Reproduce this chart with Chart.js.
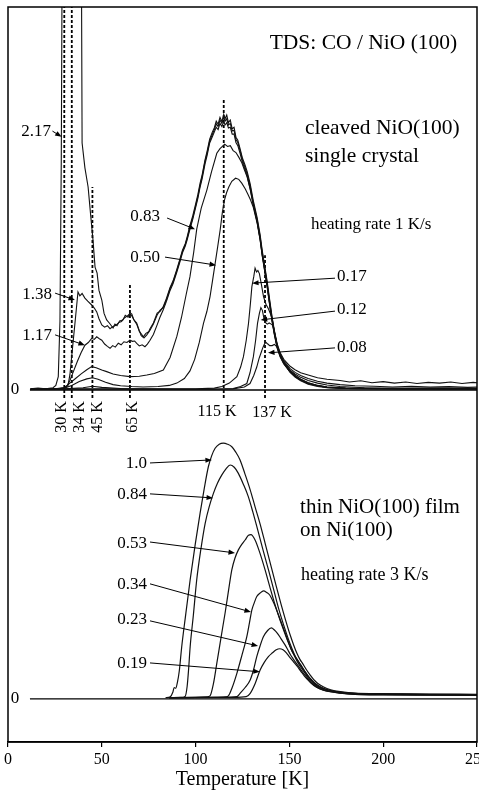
<!DOCTYPE html>
<html><head><meta charset="utf-8">
<script src="https://cdn.jsdelivr.net/npm/chart.js@4.4.1/dist/chart.umd.min.js"></script>
<style>
html,body{margin:0;padding:0;background:#fff;overflow:hidden;width:479px;height:799px;}
#wrap{position:absolute;left:0;top:0;width:520px;height:799px;}
canvas{display:block;}
</style></head><body>
<div id="wrap"><canvas id="c" width="520" height="799"></canvas></div>
<script>
// ---------- data ----------
const tempTicks = [0, 50, 100, 150, 200, 250];
const topCoverage = ['2.17','1.38','1.17','0.83','0.50','0.17','0.12','0.08'];
const botCoverage = ['1.0','0.84','0.53','0.34','0.23','0.19'];
const markerTemps = [30, 34, 45, 65, 115, 137];
const markerTops  = [100, 100, 53, 27.4, 75.7, 35.2];
const markerLabels = ['30 K','34 K','45 K','65 K','115 K','137 K'];

// top panel: cleaved NiO(100), [T (K), intensity (a.u.)]
const c217 = [[12,0.3],[16,0.5],[20,0.3],[24,0.6],[25.5,1.2],[26.8,3.5],[27.7,18],[28.4,60],[29,130],[35,150],[39,130],[39.5,64.5],[41,58],[42.7,53],[44,46],[45.3,39.2],[46.4,32.1],[47.5,30.5],[48.5,26],[50,23.5],[51.2,20],[52.6,18.3],[54,17.5],[56,16.2],[57,17.2],[58.1,16.8],[59.5,18],[61.3,18.3],[62.5,19.5],[64,19],[65,20.2],[66,19.8],[67,18.4],[68.6,17.5],[70,15.5],[71,14.2],[72,13.8],[73.5,14.8],[75,15.2],[75.7,16],[77.5,17.5],[79.5,20.1],[81,20.5],[82.7,21.7],[84.5,24],[86.4,26.8],[88,28.5],[90,31.5],[91.5,34],[93,36.5],[94.5,38.2],[95.5,40],[97,43],[98.5,45.5],[100,48.5],[101.2,51],[102.4,54],[103.5,56.2],[105,60],[106.2,62.5],[107.5,65.5],[108.8,67.2],[110,68.5],[111,70.2],[112,69.4],[113,71.2],[114,70.1],[115,72],[115.7,70.8],[116.6,71.8],[117.5,69.8],[118.5,70.5],[119.5,68.2],[120.5,68.6],[121.5,66],[122.5,65.2],[123.7,63],[125,60.5],[126.3,58.8],[127.5,57],[129.1,53.8],[130.7,49.6],[132.8,45],[134.4,40.5],[135.5,36.5],[136.8,32.5],[138.1,28.5],[139.5,23.5],[140.8,19],[142,15.5],[143.5,12],[145.1,9.7],[147,8],[150.4,6.2],[153,5.3],[156,4.5],[160,3.9],[165,3.2],[170,2.8],[177,2.5],[182,2.1],[188,2.4],[194,1.9],[200,2.2],[206,1.8],[212,2.1],[218,1.7],[224,2],[230,1.8],[236,2.1],[242,1.7],[248,2],[252,1.8]];
const c138 = [[12,0.2],[18,0.4],[24,0.2],[30,0.5],[32,1.2],[33,4],[34,9],[35,14],[36,19],[37.3,25.6],[38.3,24.6],[39.5,25.2],[41,24],[42.5,23.2],[44.6,22.2],[46,21.4],[47.3,20.4],[48.5,18.6],[50,17],[51.5,16.4],[53,16.8],[54.4,16],[56,16.6],[57.5,16.9],[59,17.6],[60.5,17.9],[62,18.8],[63.5,19.3],[65,19.9],[66.2,19.2],[67.4,18.1],[68.6,17.2],[70,15.3],[71.3,14.5],[72.5,13.6],[74,14.4],[75.7,15.6],[77.5,17.2],[79.5,19.6],[81,20.8],[82.7,21.5],[84.5,23.6],[86.4,26.5],[88,28.2],[90,31.2],[91.5,33.6],[93,36.2],[94.5,38],[95.5,39.6],[97,42.5],[98.5,45],[100,48],[101.2,50.5],[102.4,53.4],[103.5,55.8],[105,59.6],[106.2,62],[107.5,65],[108.8,66.6],[110,68],[111,69.5],[112,68.8],[113,70.5],[114,69.6],[115,71.2],[115.7,70.2],[116.6,70.8],[117.5,69.2],[118.5,69.6],[119.5,67.6],[120.5,67.8],[121.5,65.4],[122.5,64.6],[123.7,62.5],[125,60],[126.3,58.2],[127.5,56.4],[129.1,53.2],[130.7,49],[132.8,44.5],[134.4,40],[135.5,36],[136.8,32],[138.1,28],[139.5,23],[140.8,18.6],[142,15.2],[143.5,11.7],[145.1,9.4],[147,7.6],[150.4,5.6],[153,4.6],[156,3.8],[160,3],[165,2.3],[170,1.8],[177,1.4],[185,1.1],[195,1.0],[205,0.8],[215,1.0],[225,0.8],[235,0.9],[245,0.7],[252,0.8]];
const c117 = [[12,0.3],[20,0.2],[26,0.4],[30,0.6],[31.3,0.9],[33,2.5],[35,5],[37,7.5],[39,9.8],[41,11.7],[42.8,12.4],[44.6,13.5],[46,13.2],[47.3,13.9],[48.7,13.4],[50,13],[51.5,12],[53,11.4],[54.4,10.9],[55.8,11.6],[57.2,11.2],[58.8,12.2],[60.3,11.8],[61.8,12.6],[63.4,12.4],[65,13],[66.3,12.7],[67.5,12.8],[68.6,12.2],[70,11.5],[71.5,11.8],[73,11.3],[74.3,12],[75.7,13],[77.5,14.5],[79.5,17],[81,19],[82.7,20.9],[84.5,23.2],[86.4,26],[88,27.8],[90,30.8],[91.5,33.2],[93,35.8],[94.5,37.6],[95.5,39.2],[97,42],[98.5,44.6],[100,47.6],[101.2,50],[102.4,53],[103.5,55.2],[105,59],[106.2,61.4],[107.5,64.5],[108.8,66],[110,67.4],[111,68.6],[112,68],[113,69.6],[114,68.8],[115,70],[115.7,69.2],[116.6,69.8],[117.5,68.4],[118.5,68.6],[119.5,66.8],[120.5,66.8],[121.5,64.6],[122.5,63.8],[123.7,61.8],[125,59.4],[126.3,57.6],[127.5,55.8],[129.1,52.6],[130.7,48.5],[132.8,44],[134.4,39.5],[135.5,35.5],[136.8,31.5],[138.1,27.5],[139.5,22.5],[140.8,18.2],[142,14.8],[143.5,11.3],[145.1,9],[147,7.2],[150.4,5.2],[153,4.2],[156,3.3],[160,2.5],[165,1.8],[170,1.3],[177,0.9],[190,0.6],[210,0.5],[230,0.6],[252,0.5]];
const c083 = [[12,0.2],[22,0.3],[28,0.4],[30,0.6],[33,1.8],[36,3],[39,4.2],[42,5.3],[44.6,6.1],[47,5.8],[50,5.2],[52.6,4.8],[56,4.2],[60,3.8],[65,3.5],[70,3.6],[74,3.9],[78,4.3],[82.8,5.2],[86.4,8.5],[90,14],[92.5,19],[95,25],[97,29.6],[99,36],[100.6,42],[103,47.5],[106,52.2],[108.5,57],[111.3,61.8],[113,63],[114,63.5],[115.5,64.2],[117,63.6],[118.5,63.8],[120,62.5],[121.5,62],[123,60.8],[124.5,59.5],[126,57.5],[127.5,55.6],[129.1,52.4],[130.7,48.4],[132.8,43.8],[134.4,39.3],[135.5,35.3],[136.8,31.3],[138.1,27.3],[139.5,22.3],[140.8,18],[142,14.6],[143.5,11.1],[145.1,8.8],[147,7],[150.4,4.9],[153,3.8],[156,2.8],[160,1.9],[165,1.2],[170,0.8],[180,0.5],[200,0.4],[225,0.4],[252,0.3]];
const c050 = [[12,0.2],[25,0.3],[30,0.5],[34,1.2],[38,2.2],[42,2.9],[45,3.2],[48,2.8],[52,2],[56,1.4],[60,1.1],[66,0.9],[72,0.8],[80,0.9],[86,1.2],[90,1.8],[94,3],[97,5],[99.5,8],[102,12.5],[104.2,17.4],[106,20.5],[107.7,24.4],[109,28.5],[110.4,33],[111.8,37.5],[113.1,41.8],[114.3,46.5],[115.5,49.8],[116.5,51.5],[117.7,53],[119.3,54.5],[121.3,55.3],[123,55],[124.6,54],[126.5,52.5],[128,51],[129.3,49.6],[130.7,47.8],[132.8,43.6],[134.4,39.1],[135.5,35.1],[136.8,31.1],[138.1,27.1],[139.5,22.1],[140.8,17.8],[142,14.4],[143.5,10.9],[145.1,8.6],[147,6.8],[150.4,4.7],[153,3.6],[156,2.6],[160,1.7],[165,1.1],[170,0.7],[180,0.4],[210,0.3],[252,0.3]];
const c017 = [[12,0.2],[30,0.3],[40,0.6],[45,1],[50,0.7],[60,0.4],[80,0.3],[100,0.3],[110,0.5],[114,0.9],[118,1.8],[122,3.5],[124,6],[125.5,8.7],[127,13],[128.2,17.4],[129.2,22.5],[130,27],[131,29.6],[131.7,31.8],[132.5,30.8],[133.2,31.2],[134,30.4],[135,27.8],[136.2,24.4],[137.5,22.4],[138.8,21.2],[140,19.8],[140.8,18.6],[142,15.1],[143.5,11.6],[145.1,9.3],[147,7.3],[150.4,5],[153,3.8],[156,2.8],[160,1.9],[165,1.2],[170,0.8],[180,0.5],[200,0.4],[225,0.3],[252,0.3]];
const c012 = [[12,0.2],[40,0.3],[60,0.3],[90,0.2],[110,0.2],[120,0.4],[124,0.9],[127.3,1.7],[129,4.5],[130.8,8.7],[132,13],[133,17.4],[134,20],[134.8,21.5],[135.6,20.8],[136.4,18.8],[137.3,17.6],[138.2,17.2],[139.2,17.5],[140.3,17.2],[141.3,16.8],[142.3,14.5],[143.5,11.4],[145.1,9.1],[147,7.1],[150.4,4.8],[153,3.6],[156,2.6],[160,1.7],[165,1.1],[170,0.7],[180,0.4],[210,0.3],[252,0.3]];
const c008 = [[12,0.2],[60,0.2],[100,0.2],[120,0.3],[126,0.8],[129,1.7],[131,3.8],[132.6,6],[133.8,8.2],[134.8,9.6],[135.8,11],[136.8,12.1],[137.6,12.4],[138.5,12],[139.5,11.6],[140.8,11.6],[142,11.9],[143.5,11.2],[145.1,9],[147,7],[150.4,4.6],[153,3.4],[156,2.4],[160,1.5],[165,0.9],[170,0.6],[180,0.4],[210,0.3],[252,0.3]];

// bottom panel: thin NiO(100) film on Ni(100)
const b10  = [[84,0.5],[86.5,0.8],[87.8,2.5],[88.6,4.5],[89.4,4.2],[90.3,6.5],[91.3,11],[92.6,20.6],[94.5,32],[97.1,47],[99.8,61],[102.4,73.3],[104.6,83],[106.8,91.6],[108.6,96],[110.4,98.9],[112.6,100.5],[114.8,100.9],[117,100.5],[119.3,99.5],[121.5,97.3],[123.7,94.3],[126.3,88.8],[129.1,82.5],[131.7,75.8],[134.4,69],[137.2,61],[140,53],[142.8,45],[145.5,37.5],[148,31],[150.5,25],[152.3,21.2],[154,18],[155.6,15.6],[157,14],[159,11.6],[161,9.5],[163,7.6],[165,6.2],[168,4.8],[172,3.6],[178,2.8],[185,2.3],[195,2.1],[210,2],[230,1.9],[252,1.8]];
const b084 = [[86,0.4],[92,0.6],[94.4,1],[95.5,5],[96.3,12],[97.1,20.6],[98.8,33],[100.6,47],[102.8,59],[105.1,69.3],[107.3,76],[109.5,81.1],[111.7,85.2],[114,88.4],[116.2,90.8],[118.4,92.3],[120.6,91.4],[122.8,89],[125.4,84.8],[128,80],[130.5,73.8],[133,67],[136,58.6],[139,50.5],[141.8,42.6],[144.5,35],[147,29],[149.5,23.5],[151.3,20],[153,17],[154.6,15],[156,13.5],[158,11.2],[160,9],[162,7.4],[164,6],[167,4.6],[171,3.5],[177,2.7],[185,2.2],[200,2],[225,1.8],[252,1.7]];
const b053 = [[86,0.5],[100,0.6],[106,0.8],[107.7,1.2],[109.5,6],[111.3,14],[113.5,24],[115.7,33.8],[117.5,42.5],[119.3,50.9],[121,55.6],[122.8,58.8],[124.6,61],[126.4,62.7],[128.2,64.6],[129.5,64.8],[131.7,62.7],[134.3,57.5],[137,51],[139.5,44.4],[142,38],[144.5,32.2],[147,27],[149,23],[151,19.5],[153,16.8],[155,14.5],[157,12.1],[159,10],[161,8],[163,6.3],[166,4.7],[170,3.6],[177,2.6],[185,2.1],[200,1.9],[225,1.7],[252,1.6]];
const b034 = [[86,0.5],[110,0.6],[116,0.8],[117.5,1.2],[119.5,4.5],[122,10.1],[124.6,17],[127.3,24.6],[128.7,30],[130,35.1],[131.3,38],[132.6,40.4],[134.4,41.8],[136.2,42.6],[137.9,42],[139.5,41],[141.8,37.6],[144,33.5],[146,29.5],[148,25.5],[149.5,22.4],[151,19.5],[152.5,17.2],[154,15],[156,12.6],[158,10.5],[160,8.4],[162,6.5],[165,4.8],[169,3.5],[176,2.6],[185,2],[200,1.8],[225,1.7],[252,1.6]];
const b023 = [[86,0.5],[115,0.6],[122,0.9],[123.7,2.2],[126.4,4.5],[129.1,7.5],[130.9,11.5],[132.6,16.7],[134.4,21],[136.2,24.6],[138.4,27],[140.4,28],[142,27.2],[143.5,26],[145.5,23.8],[147.5,21.5],[149,19.6],[150.5,17.5],[152,15.8],[153.5,14.2],[155,12.7],[157,10.6],[159,8.7],[161.5,6.4],[164.5,4.7],[168,3.5],[175,2.5],[185,1.9],[200,1.7],[225,1.6],[252,1.5]];
const b019 = [[86,0.5],[120,0.6],[127,0.9],[129.1,2.2],[131.7,6],[134.4,11.4],[136.6,14.4],[138.8,16.7],[141,18.2],[143,19.4],[144.8,19.8],[146.6,19.4],[148.4,18.2],[150,16.6],[152,14.8],[154,13],[156,11],[158,9],[160.5,7],[163,5.3],[166,4],[170,3.1],[176,2.4],[185,1.8],[200,1.6],[225,1.5],[252,1.5]];

const baselineSpan = [11.7, 252];

// ---------- annotations (positions in data units) ----------
const SERIF = "'Liberation Serif','DejaVu Serif',serif";
const texts = [
  {t:'TDS: CO / NiO (100)', T:139.5, v:90.6, ax:'yTop', size:21.5, align:'left'},
  {t:'cleaved NiO(100)', T:158.3, v:68.4, ax:'yTop', size:21.5, align:'left'},
  {t:'single crystal', T:158.3, v:61.1, ax:'yTop', size:21.5, align:'left'},
  {t:'heating rate 1 K/s', T:161.5, v:43.3, ax:'yTop', size:17, align:'left'},
  {t:'thin NiO(100) film', T:155.7, v:75.7, ax:'yBot', size:21, align:'left'},
  {t:'on Ni(100)', T:155.7, v:66.3, ax:'yBot', size:21, align:'left'},
  {t:'heating rate 3 K/s', T:156.2, v:48.9, ax:'yBot', size:18, align:'left'},
  {t:'0', T:3.7, v:0, ax:'yTop', size:17, align:'center'},
  {t:'0', T:3.7, v:0, ax:'yBot', size:17, align:'center'},
  {t:'115 K', T:111.4, v:-5.7, ax:'yTop', size:16, align:'center'},
  {t:'137 K', T:140.8, v:-6.0, ax:'yTop', size:16, align:'center'}
];
const rotLabelT = [28.8, 38.4, 47.7, 66.7];
const rotLabelV = -7.05;
// coverage labels with arrows: label anchor, arrow start, arrow tip
const arrowsTop = [
  {t:'2.17', lT:22.9, lv:67.4, align:'right', s:[23.7,67.6], e:[28.6,66.1]},
  {t:'1.38', lT:23.5, lv:24.8, align:'right', s:[25.1,25.3], e:[35.7,23.5]},
  {t:'1.17', lT:23.5, lv:14.1, align:'right', s:[25.1,14.4], e:[41.0,11.7]},
  {t:'0.83', lT:81.0, lv:45.2, align:'right', s:[84.8,44.9], e:[99.7,42.0]},
  {t:'0.50', lT:81.0, lv:34.7, align:'right', s:[83.7,34.7], e:[110.9,32.6]},
  {t:'0.17', lT:175.4, lv:29.5, align:'left', s:[174.3,29.2], e:[130.1,27.9]},
  {t:'0.12', lT:175.4, lv:20.9, align:'left', s:[174.3,20.6], e:[134.7,18.3]},
  {t:'0.08', lT:175.4, lv:11.2, align:'left', s:[174.3,11.0], e:[138.6,9.7]}
];
const arrowsBot = [
  {t:'1.0', lT:74.1, lv:92.7, align:'right', s:[75.7,93.1], e:[108.7,94.3]},
  {t:'0.84', lT:74.1, lv:80.5, align:'right', s:[75.7,80.9], e:[109.3,79.3]},
  {t:'0.53', lT:74.1, lv:61.5, align:'right', s:[75.7,61.9], e:[121.0,57.6]},
  {t:'0.34', lT:74.1, lv:45.0, align:'right', s:[75.7,45.4], e:[129.5,34.3]},
  {t:'0.23', lT:74.1, lv:31.2, align:'right', s:[75.7,30.8], e:[133.3,20.9]},
  {t:'0.19', lT:74.1, lv:13.8, align:'right', s:[75.7,14.2], e:[134.3,10.7]}
];

// ---------- build datasets ----------
const pts = a => a.map(([x, y]) => ({x, y}));
const topSeries = [c217, c138, c117, c083, c050, c017, c012, c008];
const botSeries = [b10, b084, b053, b034, b023, b019];
const datasets = [];
topSeries.forEach((s, i) => datasets.push({
  label: 'single crystal ' + topCoverage[i], data: pts(s), yAxisID: 'yTop',
  borderColor: '#111', borderWidth: 1.1, pointRadius: 0, tension: 0, fill: false
}));
botSeries.forEach((s, i) => datasets.push({
  label: 'film ' + botCoverage[i], data: pts(s), yAxisID: 'yBot',
  borderColor: '#111', borderWidth: 1.2, pointRadius: 0, cubicInterpolationMode: 'monotone', fill: false
}));
['yTop', 'yBot'].forEach(ax => datasets.push({
  label: 'zero ' + ax, data: baselineSpan.map(T => ({x: T, y: 0})), yAxisID: ax,
  borderColor: '#000', borderWidth: 1.3, pointRadius: 0, fill: false
}));
markerTemps.forEach((T, i) => datasets.push({
  label: markerLabels[i], data: [{x: T, y: -2.1}, {x: T, y: markerTops[i]}], yAxisID: 'yTop',
  borderColor: '#000', borderWidth: 1.8, borderDash: [3, 2], pointRadius: 0, fill: false
}));

function arrow(ctx, x1, y1, x2, y2) {
  const ang = Math.atan2(y2 - y1, x2 - x1), L = 6.5, W = 2.6;
  ctx.beginPath(); ctx.moveTo(x1, y1);
  ctx.lineTo(x2 - Math.cos(ang) * L * 0.8, y2 - Math.sin(ang) * L * 0.8); ctx.stroke();
  ctx.beginPath(); ctx.moveTo(x2, y2);
  ctx.lineTo(x2 - L * Math.cos(ang) + W * Math.sin(ang), y2 - L * Math.sin(ang) - W * Math.cos(ang));
  ctx.lineTo(x2 - L * Math.cos(ang) - W * Math.sin(ang), y2 - L * Math.sin(ang) + W * Math.cos(ang));
  ctx.closePath(); ctx.fill();
}

const annotate = {
  id: 'annotate',
  afterDraw(chart) {
    const {ctx, chartArea: a, scales} = chart;
    const sx = scales.x;
    ctx.save();
    ctx.strokeStyle = '#000'; ctx.fillStyle = '#000'; ctx.lineWidth = 1.5;
    ctx.strokeRect(a.left, a.top, a.right - a.left, a.bottom - a.top);
    ctx.textBaseline = 'middle';
    texts.forEach(o => {
      ctx.font = o.size + 'px ' + SERIF; ctx.textAlign = o.align;
      ctx.fillText(o.t, sx.getPixelForValue(o.T), scales[o.ax].getPixelForValue(o.v));
    });
    ctx.font = '16px ' + SERIF; ctx.textAlign = 'center';
    rotLabelT.forEach((T, i) => {
      ctx.save();
      ctx.translate(sx.getPixelForValue(T), scales.yTop.getPixelForValue(rotLabelV));
      ctx.rotate(-Math.PI / 2);
      ctx.fillText(markerLabels[i], 0, 0);
      ctx.restore();
    });
    ctx.lineWidth = 1;
    const drawSet = (list, ys) => list.forEach(o => {
      ctx.font = '17px ' + SERIF; ctx.textAlign = o.align;
      ctx.fillText(o.t, sx.getPixelForValue(o.lT), ys.getPixelForValue(o.lv));
      arrow(ctx, sx.getPixelForValue(o.s[0]), ys.getPixelForValue(o.s[1]),
                 sx.getPixelForValue(o.e[0]), ys.getPixelForValue(o.e[1]));
    });
    drawSet(arrowsTop, scales.yTop);
    drawSet(arrowsBot, scales.yBot);
    ctx.restore();
  }
};

new Chart(document.getElementById('c'), {
  type: 'line',
  data: {datasets},
  options: {
    responsive: false, animation: false, devicePixelRatio: 1,
    layout: {padding: {left: 8, top: 7, right: 43, bottom: 0}},
    plugins: {legend: {display: false}, tooltip: {enabled: false}},
    scales: {
      x: {
        type: 'linear', min: 0, max: 250,
        afterBuildTicks: s => { s.ticks = tempTicks.map(v => ({value: v})); },
        afterFit: s => { s.height = 57; },
        ticks: {color: '#000', font: {family: SERIF, size: 16}, padding: 3, maxRotation: 0},
        grid: {display: true, drawOnChartArea: false, drawTicks: true, tickLength: 5, color: '#000', lineWidth: 1.2},
        border: {display: true, color: '#000', width: 1.5},
        title: {display: true, text: 'Temperature [K]', color: '#000', font: {family: SERIF, size: 20}, padding: {top: 0, bottom: 7}}
      },
      yTop: {type: 'linear', position: 'left', display: false, min: -91.9, max: 100},
      yBot: {type: 'linear', position: 'left', display: false, min: -17, max: 273}
    }
  },
  plugins: [annotate]
});
</script>
</body></html>
